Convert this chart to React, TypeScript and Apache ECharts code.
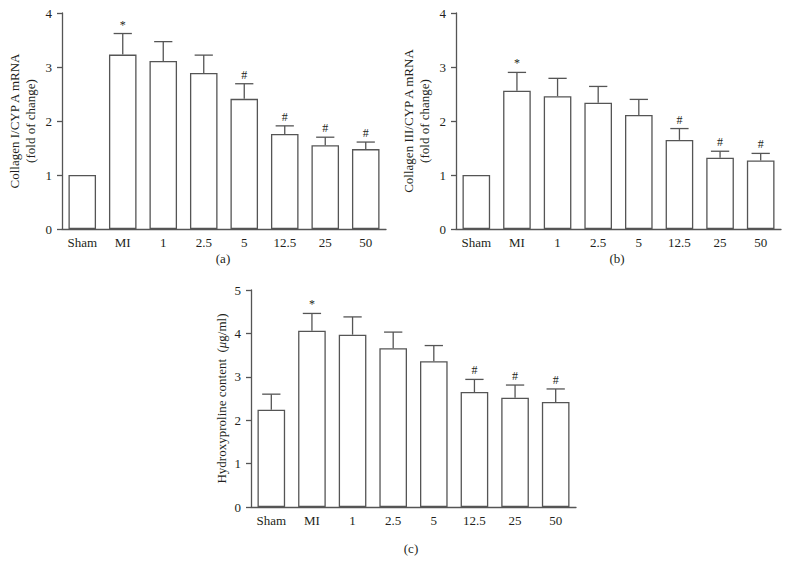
import React, { useEffect, useRef } from 'react';
import * as echarts from 'echarts';

const categories = ['Sham', 'MI', '1', '2.5', '5', '12.5', '25', '50'];

const collagenI = [1.0, 3.23, 3.11, 2.89, 2.41, 1.76, 1.55, 1.48];
const collagenIErr = [1.0, 3.62, 3.47, 3.22, 2.69, 1.91, 1.7, 1.61];
const collagenIMarks = ['', '*', '', '', '#', '#', '#', '#'];

const collagenIII = [1.0, 2.56, 2.46, 2.34, 2.11, 1.65, 1.32, 1.27];
const collagenIIIErr = [1.0, 2.9, 2.79, 2.64, 2.4, 1.86, 1.44, 1.4];
const collagenIIIMarks = ['', '*', '', '', '', '#', '#', '#'];

const hydroxyproline = [2.24, 4.06, 3.97, 3.66, 3.36, 2.65, 2.52, 2.42];
const hydroxyprolineErr = [2.6, 4.46, 4.38, 4.03, 3.72, 2.94, 2.81, 2.72];
const hydroxyprolineMarks = ['', '*', '', '', '', '#', '#', '#'];

const yMaxAB = 4;
const yMaxC = 5;
const panelLabels = ['(a)', '(b)', '(c)'];

const FONT = '"Liberation Serif", "DejaVu Serif", serif';
const INK = '#231f20';
const LINE = '#555555';
const FS = 13;

function errorSeries(idx: number, values: number[], errs: number[], marks: string[]) {
  return {
    type: 'custom',
    xAxisIndex: idx,
    yAxisIndex: idx,
    z: 5,
    data: values.map((v, i) => [i, v, errs[i]]),
    renderItem: (params: any, api: any) => {
      const i = api.value(0);
      const v = api.value(1);
      const e = api.value(2);
      const top = api.coord([i, v]);
      const hi = api.coord([i, e]);
      const bw = api.size([1, 0])[0];
      const cap = bw * 0.45;
      const children: any[] = [];
      const st = { stroke: LINE, lineWidth: 1.3 };
      if (e > v) {
        children.push({ type: 'line', shape: { x1: top[0], y1: top[1], x2: hi[0], y2: hi[1] }, style: st });
        children.push({ type: 'line', shape: { x1: hi[0] - cap / 2, y1: hi[1], x2: hi[0] + cap / 2, y2: hi[1] }, style: st });
      }
      const m = marks[params.dataIndex];
      if (m) {
        children.push({
          type: 'text',
          x: hi[0],
          y: hi[1] - 3,
          style: { text: m, fill: INK, font: `12px ${FONT}`, align: 'center', verticalAlign: 'bottom' },
        });
      }
      return { type: 'group', children };
    },
  };
}

function xAxis(idx: number) {
  return {
    type: 'category',
    gridIndex: idx,
    data: categories,
    axisLine: { lineStyle: { color: LINE, width: 1.3 } },
    axisTick: { alignWithLabel: true, length: 5, lineStyle: { color: LINE, width: 1.3 } },
    axisLabel: { color: INK, fontFamily: FONT, fontSize: FS, margin: 7 },
  };
}

function yAxis(idx: number, max: number, name: string, nameGap: number, rich?: any) {
  return {
    type: 'value',
    gridIndex: idx,
    min: 0,
    max,
    interval: 1,
    name,
    nameLocation: 'middle',
    nameRotate: 90,
    nameGap,
    nameTextStyle: { color: INK, fontFamily: FONT, fontSize: FS, lineHeight: 16, rich },
    splitLine: { show: false },
    axisLine: { show: true, lineStyle: { color: LINE, width: 1.3 } },
    axisTick: { show: true, length: 5, lineStyle: { color: LINE, width: 1.3 } },
    axisLabel: { color: INK, fontFamily: FONT, fontSize: FS, margin: 10 },
  };
}

function barSeries(idx: number, values: number[]) {
  return {
    type: 'bar',
    xAxisIndex: idx,
    yAxisIndex: idx,
    data: values,
    barWidth: '68%',
    itemStyle: { color: '#ffffff', borderColor: LINE, borderWidth: 1.3 },
  };
}

export default function App() {
  const ref = useRef<HTMLDivElement>(null);
  useEffect(() => {
    if (!ref.current) return;
    const chart = echarts.init(ref.current, undefined, { renderer: 'svg' });
    chart.setOption({
      animation: false,
      backgroundColor: '#ffffff',
      grid: [
        { left: 62, top: 13, width: 324, height: 216 },
        { left: 456, top: 13, width: 325, height: 216 },
        { left: 251, top: 290, width: 325, height: 217 },
      ],
      xAxis: [xAxis(0), xAxis(1), xAxis(2)],
      yAxis: [
        yAxis(0, yMaxAB, 'Collagen I/CYP A mRNA\n(fold of change)', 24),
        yAxis(1, yMaxAB, 'Collagen III/CYP A mRNA\n(fold of change)', 24),
        yAxis(2, yMaxC, '{n|Hydroxyproline content  (}{i|μ}{n|g/ml)}', 22, {
          n: { fontFamily: FONT, fontSize: FS, color: INK },
          i: { fontFamily: FONT, fontSize: FS, color: INK, fontStyle: 'italic' },
        }),
      ],
      series: [
        barSeries(0, collagenI),
        errorSeries(0, collagenI, collagenIErr, collagenIMarks),
        barSeries(1, collagenIII),
        errorSeries(1, collagenIII, collagenIIIErr, collagenIIIMarks),
        barSeries(2, hydroxyproline),
        errorSeries(2, hydroxyproline, hydroxyprolineErr, hydroxyprolineMarks),
      ],
      graphic: [
        { type: 'text', x: 223, y: 258, style: { text: panelLabels[0], fill: INK, font: `${FS}px ${FONT}`, align: 'center', verticalAlign: 'middle' } },
        { type: 'text', x: 617, y: 258, style: { text: panelLabels[1], fill: INK, font: `${FS}px ${FONT}`, align: 'center', verticalAlign: 'middle' } },
        { type: 'text', x: 411, y: 548, style: { text: panelLabels[2], fill: INK, font: `${FS}px ${FONT}`, align: 'center', verticalAlign: 'middle' } },
      ],
    });
    return () => chart.dispose();
  }, []);
  return <div ref={ref} style={{ position: 'fixed', left: 0, top: 0, width: 789, height: 572 }} />;
}
